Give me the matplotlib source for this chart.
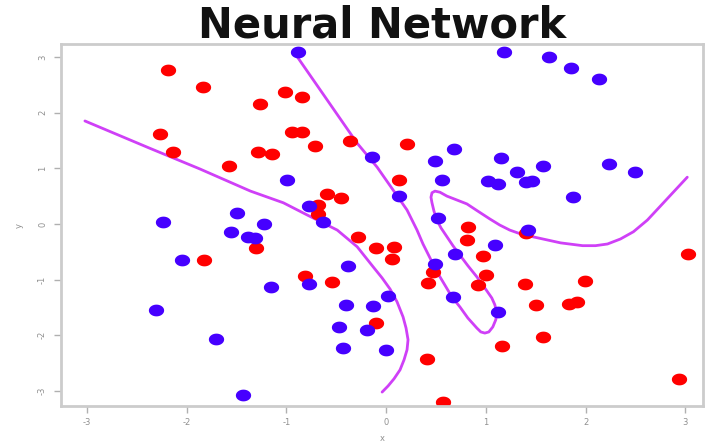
import numpy as np
import matplotlib
matplotlib.use("Agg")
import matplotlib.pyplot as plt
from matplotlib.path import Path

# class 1 (blue) observations
blue_x = [-0.88, 1.18, 1.63, 1.85, 2.13, -0.14, -0.99, 0.13, 0.68, 0.49,
          0.56, 1.15, 1.31, 1.57, 1.02, 1.12, 1.40, 1.46, 2.24, 2.50,
          1.87, -0.77, -0.63, -1.50, -2.24, -1.56, -1.38, -1.31, -1.22, -2.05,
          -1.15, -0.77, -2.31, -1.71, -1.43, -0.38, -0.40, -0.13, 0.02, -0.47,
          -0.19, -0.43, 0.00, 0.52, 1.42, 1.09, 0.69, 0.49, 0.67, 1.12]
blue_y = [3.09, 3.09, 3.00, 2.80, 2.60, 1.20, 0.79, 0.50, 1.35, 1.13,
          0.79, 1.18, 0.93, 1.04, 0.77, 0.72, 0.75, 0.77, 1.08, 0.93,
          0.48, 0.32, 0.04, 0.20, 0.04, -0.14, -0.23, -0.25, 0.00, -0.65,
          -1.13, -1.08, -1.54, -2.06, -3.07, -0.75, -1.45, -1.47, -1.29, -1.85,
          -1.90, -2.23, -2.26, 0.11, -0.11, -0.38, -0.54, -0.72, -1.31, -1.58]

# class 0 (red) observations
red_x = [-2.19, -1.84, -1.01, -0.84, -1.26, -2.27, -2.14, -1.58, -1.28, -1.14,
         -0.94, -0.84, -0.71, -0.36, 0.21, 0.13, -0.59, -0.45, -0.68, -0.68,
         -1.83, -1.30, -0.81, -0.54, -0.28, -0.10, 0.08, 0.06, -0.10, 0.41,
         0.57, 0.82, 0.81, 1.40, 0.97, 0.47, 0.42, 1.00, 0.92, 1.39,
         1.99, 3.03, 1.50, 1.83, 1.91, 1.57, 1.16, 2.94]
red_y = [2.76, 2.46, 2.37, 2.28, 2.15, 1.62, 1.29, 1.04, 1.29, 1.26,
         1.65, 1.65, 1.40, 1.49, 1.44, 0.79, 0.54, 0.47, 0.34, 0.18,
         -0.65, -0.43, -0.93, -1.04, -0.23, -0.43, -0.41, -0.63, -1.78, -2.42,
         -3.20, -0.05, -0.29, -0.16, -0.57, -0.86, -1.06, -0.92, -1.10, -1.08,
         -1.02, -0.54, -1.45, -1.44, -1.40, -2.03, -2.19, -2.78]

# decision boundary of the fitted network (0.5 level)
bound1_x = [-3.02, -2.37, -1.87, -1.36, -1.03, -0.79, -0.69, -0.49, -0.29, -0.13,
            -0.04, 0.04, 0.11, 0.17, 0.20, 0.22, 0.21, 0.18, 0.14, 0.08,
            0.02, -0.04]
bound1_y = [1.85, 1.36, 0.99, 0.59, 0.38, 0.16, 0.07, -0.11, -0.41, -0.77,
            -0.97, -1.17, -1.40, -1.67, -1.87, -2.08, -2.26, -2.44, -2.62, -2.78,
            -2.91, -3.02]

bound2_x = [-0.89, -0.29, -0.09, 0.07, 0.21, 0.31, 0.37, 0.44, 0.51, 0.59,
            0.66, 0.74, 0.82, 0.91, 0.95, 0.99, 1.03, 1.07, 1.10, 1.11,
            1.09, 1.06, 0.99, 0.91, 0.82, 0.74, 0.67, 0.61, 0.55, 0.51,
            0.48, 0.46, 0.45, 0.46, 0.49, 0.54, 0.61, 0.81, 0.92, 1.04,
            1.14, 1.24, 1.35, 1.47, 1.75, 1.97, 2.10, 2.22, 2.35, 2.48,
            2.62, 2.75, 2.89, 3.02]
bound2_y = [3.00, 1.45, 1.02, 0.61, 0.25, -0.11, -0.36, -0.61, -0.86, -1.10,
            -1.31, -1.49, -1.69, -1.87, -1.94, -1.96, -1.94, -1.85, -1.72, -1.60,
            -1.45, -1.33, -1.15, -0.95, -0.75, -0.56, -0.39, -0.23, -0.07, 0.07,
            0.23, 0.38, 0.48, 0.56, 0.59, 0.57, 0.50, 0.36, 0.23, 0.09,
            -0.02, -0.11, -0.18, -0.23, -0.34, -0.39, -0.39, -0.36, -0.27, -0.14,
            0.07, 0.32, 0.59, 0.84]

ticks = [-3, -2, -1, 0, 1, 2, 3]
tick_labels = ["-3", "-2", "-1", "0", "1", "2", "3"]

# slightly wide ellipse marker
t = np.linspace(0, 2 * np.pi, 60)
ell = Path(np.column_stack([1.3 * np.cos(t), np.sin(t)]))

fig = plt.figure(figsize=(7.05, 4.44), dpi=100)
ax = fig.add_axes([0.0865, 0.0856, 0.911, 0.815])

line_col = "#cf40f7"
ax.plot(bound1_x, bound1_y, color=line_col, lw=2.0, solid_capstyle="round",
        solid_joinstyle="round")
ax.plot(bound2_x, bound2_y, color=line_col, lw=2.0, solid_capstyle="round",
        solid_joinstyle="round")

ax.plot(red_x, red_y, ls="none", marker=ell, ms=11, color="#ff0000", mec="none")
ax.plot(blue_x, blue_y, ls="none", marker=ell, ms=11, color="#4600ff", mec="none")

ax.set_xlim(-3.26, 3.18)
ax.set_ylim(-3.27, 3.23)

ax.set_xticks(ticks)
ax.set_xticklabels(tick_labels)
ax.set_yticks(ticks)
ax.set_yticklabels(tick_labels, rotation=90, va="center")

grey = "#b0b0b0"
for sp in ax.spines.values():
    sp.set_color("#cccccc")
    sp.set_linewidth(2)
ax.tick_params(axis="both", colors=grey, labelcolor="#909090", labelsize=6,
               length=5, width=1, direction="out")
ax.tick_params(axis="x", pad=4)
ax.tick_params(axis="y", pad=5)

ax.set_xlabel("x", fontsize=6, color="#909090", labelpad=5)
ax.set_ylabel("y", fontsize=6, color="#909090", labelpad=10)

fig.text(0.542, 0.915, "Neural Network", ha="center", va="baseline",
         fontsize=30, fontweight="bold", color="#111111")

fig.savefig("out.png", dpi=100, facecolor="white")
